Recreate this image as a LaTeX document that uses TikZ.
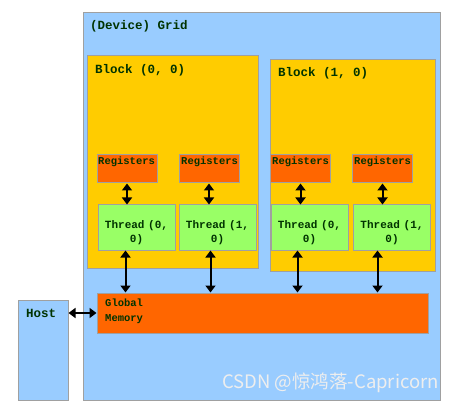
\documentclass[tikz,border=0pt]{standalone}
\usepackage{fontspec}
\setmonofont{Liberation Mono}
\newfontfamily\cjkfont{Noto Sans CJK SC}
\usetikzlibrary{arrows.meta}
\definecolor{gridblue}{HTML}{99CCFF}
\definecolor{blockyellow}{HTML}{FFCC00}
\definecolor{memorange}{HTML}{FF6600}
\definecolor{threadgreen}{HTML}{99FF66}
\definecolor{edgegray}{HTML}{A0A0A0}
\definecolor{textgreen}{HTML}{003300}
\definecolor{markgray}{HTML}{EEEEEE}
\begin{document}
\begin{tikzpicture}[x=1pt, y=-1pt,
        box/.style={rectangle, draw=edgegray, line width=1pt, inner sep=0pt},
        gridbox/.style={box, fill=gridblue},
        blockbox/.style={box, fill=blockyellow},
        regbox/.style={box, fill=memorange, minimum width=60pt, minimum height=28pt},
        threadbox/.style={box, fill=threadgreen, minimum width=77pt, minimum height=45pt},
        threadtag/.style={inner sep=0pt, text width=72pt, align=center, font=\ttfamily\bfseries\fontsize{11}{14}\selectfont, text=textgreen},
        tag/.style={anchor=north west, inner sep=0pt, text=textgreen, font=\ttfamily\bfseries\fontsize{12.5}{14}\selectfont},
        smalltag/.style={tag, font=\ttfamily\bfseries\fontsize{10.5}{15}\selectfont},
        arrow/.style={{Triangle[width=10pt,length=7pt]}-{Triangle[width=10pt,length=7pt]}, line width=2pt, black}
    ]
    \useasboundingbox (0,0) rectangle (457,403);

    % grid, blocks, host
    \node[gridbox, minimum width=357pt, minimum height=387pt] (grid) at (261.5,206.5) {};
    \node[gridbox, minimum width=50pt, minimum height=100pt] (host) at (43,350) {};
    \node[blockbox, minimum width=171pt, minimum height=212pt] (blk0) at (172.5,162) {};
    \node[blockbox, minimum width=165pt, minimum height=211pt] (blk1) at (352.5,165.5) {};
    \node[tag] (gridtag) at (90,20) {(Device) Grid};
    \node[tag] (blk0tag) at (95,64) {Block (0, 0)};
    \node[tag] (blk1tag) at (278,67) {Block (1, 0)};
    \node[tag] (hosttag) at (26,309) {Host};

    % registers and threads
    \node[regbox] (reg1) at (127,169) {};
    \node[regbox] (reg2) at (209,169) {};
    \node[regbox] (reg3) at (300.5,169) {};
    \node[regbox] (reg4) at (382.5,169) {};
    \node[smalltag] (reg1tag) at (98,157) {Registers};
    \node[smalltag] (reg2tag) at (181,157) {Registers};
    \node[smalltag] (reg3tag) at (272,157) {Registers};
    \node[smalltag] (reg4tag) at (354,157) {Registers};
    \node[threadbox] (thr1) at (136.5,227.5) {};
    \node[threadbox] (thr2) at (217.5,227.5) {};
    \node[threadbox] (thr3) at (309.5,227.5) {};
    \node[threadbox] (thr4) at (392,227.5) {};
    \node[threadtag] (thr1tag) at (136.5,233) {Thread (0,\\0)};
    \node[threadtag] (thr2tag) at (217.5,233) {Thread (1,\\0)};
    \node[threadtag] (thr3tag) at (309.5,233) {Thread (0,\\0)};
    \node[threadtag] (thr4tag) at (392,233) {Thread (1,\\0)};

    % global memory
    \node[box, fill=memorange, minimum width=331pt, minimum height=40pt] (mem) at (262.5,313) {};
    \node[smalltag, align=left] (memtag) at (105,299) {Global\\Memory};

    % watermark
    \node[anchor=west, inner sep=0pt, text=markgray, font=\cjkfont\fontsize{18.5}{20}\selectfont] (mark) at (222,383) {CSDN @惊鸿落-Capricorn};

    % connectors
    \foreach \i in {1,...,4}
        \draw[arrow] (reg\i.south) -- (reg\i.south |- thr\i.north);
    \draw[arrow] ([xshift=28pt]thr1.south west) -- ([xshift=28pt]thr1.south west |- mem.north);
    \draw[arrow] ([xshift=32pt]thr2.south west) -- ([xshift=32pt]thr2.south west |- mem.north);
    \draw[arrow] ([xshift=27pt]thr3.south west) -- ([xshift=27pt]thr3.south west |- mem.north);
    \draw[arrow] ([xshift=24.5pt]thr4.south west) -- ([xshift=24.5pt]thr4.south west |- mem.north);
    \draw[arrow] (host.east |- mem.west) -- (mem.west);

\end{tikzpicture}
\end{document}
